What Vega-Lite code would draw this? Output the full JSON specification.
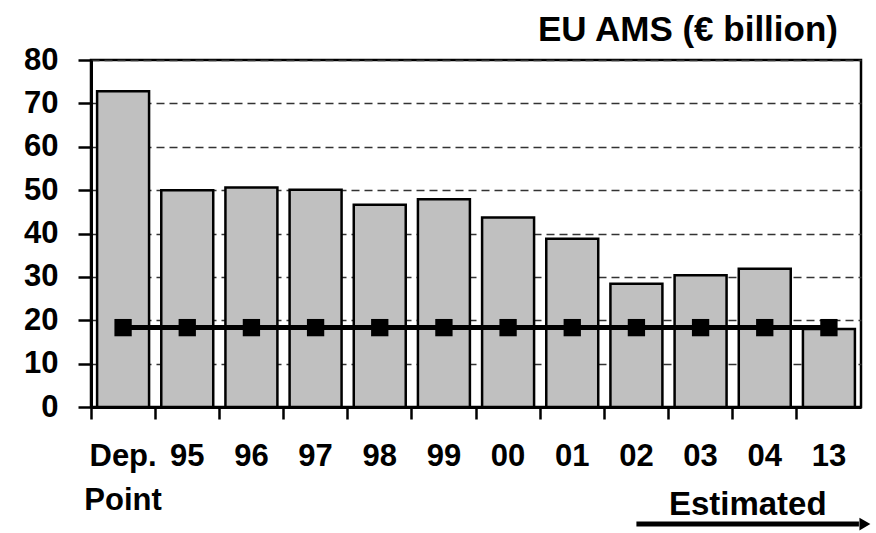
{
  "$schema": "https://vega.github.io/schema/vega-lite/v6.json",
  "width": 770,
  "height": 347,
  "autosize": {"type": "none"},
  "padding": {"left": 91, "top": 60, "right": 15, "bottom": 126},
  "background": "white",
  "config": {
    "font": "Liberation Sans",
    "view": {"stroke": "black", "strokeWidth": 2.5},
    "axis": {"labelFont": "Liberation Sans", "labelFontWeight": "bold", "labelColor": "black", "domainColor": "black", "tickColor": "black"}
  },
  "title": {"text": "EU AMS (€ billion)", "anchor": "end", "frame": "group", "fontSize": 35, "fontWeight": "bold", "color": "black", "baseline": "alphabetic", "offset": -32, "dx": -23},
  "data": {"values": [
    {"cat": "Dep. Point", "ams": 72.8, "limit": 18.3},
    {"cat": "95", "ams": 50.0, "limit": 18.3},
    {"cat": "96", "ams": 50.6, "limit": 18.3},
    {"cat": "97", "ams": 50.1, "limit": 18.3},
    {"cat": "98", "ams": 46.6, "limit": 18.3},
    {"cat": "99", "ams": 47.9, "limit": 18.3},
    {"cat": "00", "ams": 43.7, "limit": 18.3},
    {"cat": "01", "ams": 38.8, "limit": 18.3},
    {"cat": "02", "ams": 28.4, "limit": 18.3},
    {"cat": "03", "ams": 30.4, "limit": 18.3},
    {"cat": "04", "ams": 31.9, "limit": 18.3},
    {"cat": "13", "ams": 18.0, "limit": 18.3}
  ]},
  "encoding": {
    "x": {
      "field": "cat", "type": "nominal", "sort": null,
      "scale": {"paddingInner": 0, "paddingOuter": 0},
      "axis": {
        "title": null, "labelAngle": 0, "labelFontSize": 31, "labelPadding": 22,
        "labelLineHeight": 44,
        "labelExpr": "datum.value == 'Dep. Point' ? ['Dep.', 'Point'] : datum.value",
        "bandPosition": 0, "tickSize": 12, "tickWidth": 2.5, "domainWidth": 3, "grid": false
      }
    }
  },
  "layer": [
    {
      "mark": {"type": "bar", "fill": "#C0C0C0", "stroke": "black", "strokeWidth": 2.5, "width": {"band": 0.81}},
      "encoding": {
        "y": {
          "field": "ams", "type": "quantitative",
          "scale": {"domain": [0, 80], "nice": false},
          "axis": {
            "title": null, "values": [0, 10, 20, 30, 40, 50, 60, 70, 80],
            "labelFontSize": 31, "labelPadding": 20, "tickSize": 13, "tickWidth": 2.5, "domainWidth": 3,
            "grid": true, "gridColor": "#333333", "gridDash": [8, 5], "gridWidth": 1.3
          }
        }
      }
    },
    {
      "mark": {"type": "line", "color": "black", "strokeWidth": 5},
      "encoding": {"y": {"field": "limit", "type": "quantitative"}}
    },
    {
      "mark": {"type": "point", "shape": "square", "filled": true, "color": "black", "size": 300, "opacity": 1},
      "encoding": {"y": {"field": "limit", "type": "quantitative"}}
    },
    {
      "data": {"values": [{"note": "Estimated"}]},
      "mark": {"type": "text", "fontSize": 33, "fontWeight": "bold", "color": "black", "align": "center", "baseline": "alphabetic", "dx": -17},
      "encoding": {
        "x": {"datum": "04"},
        "y": {"datum": -25},
        "text": {"field": "note"}
      }
    },
    {
      "data": {"values": [{"note": "arrow"}]},
      "mark": {"type": "rule", "color": "black", "strokeWidth": 5, "x2Offset": 30},
      "encoding": {
        "x": {"datum": "02"},
        "x2": {"datum": "13"},
        "y": {"datum": -27}
      }
    },
    {
      "data": {"values": [{"note": "arrowhead"}]},
      "mark": {"type": "point", "shape": "triangle-right", "filled": true, "color": "black", "size": 160, "opacity": 1, "xOffset": 36},
      "encoding": {
        "x": {"datum": "13"},
        "y": {"datum": -27}
      }
    }
  ]
}
